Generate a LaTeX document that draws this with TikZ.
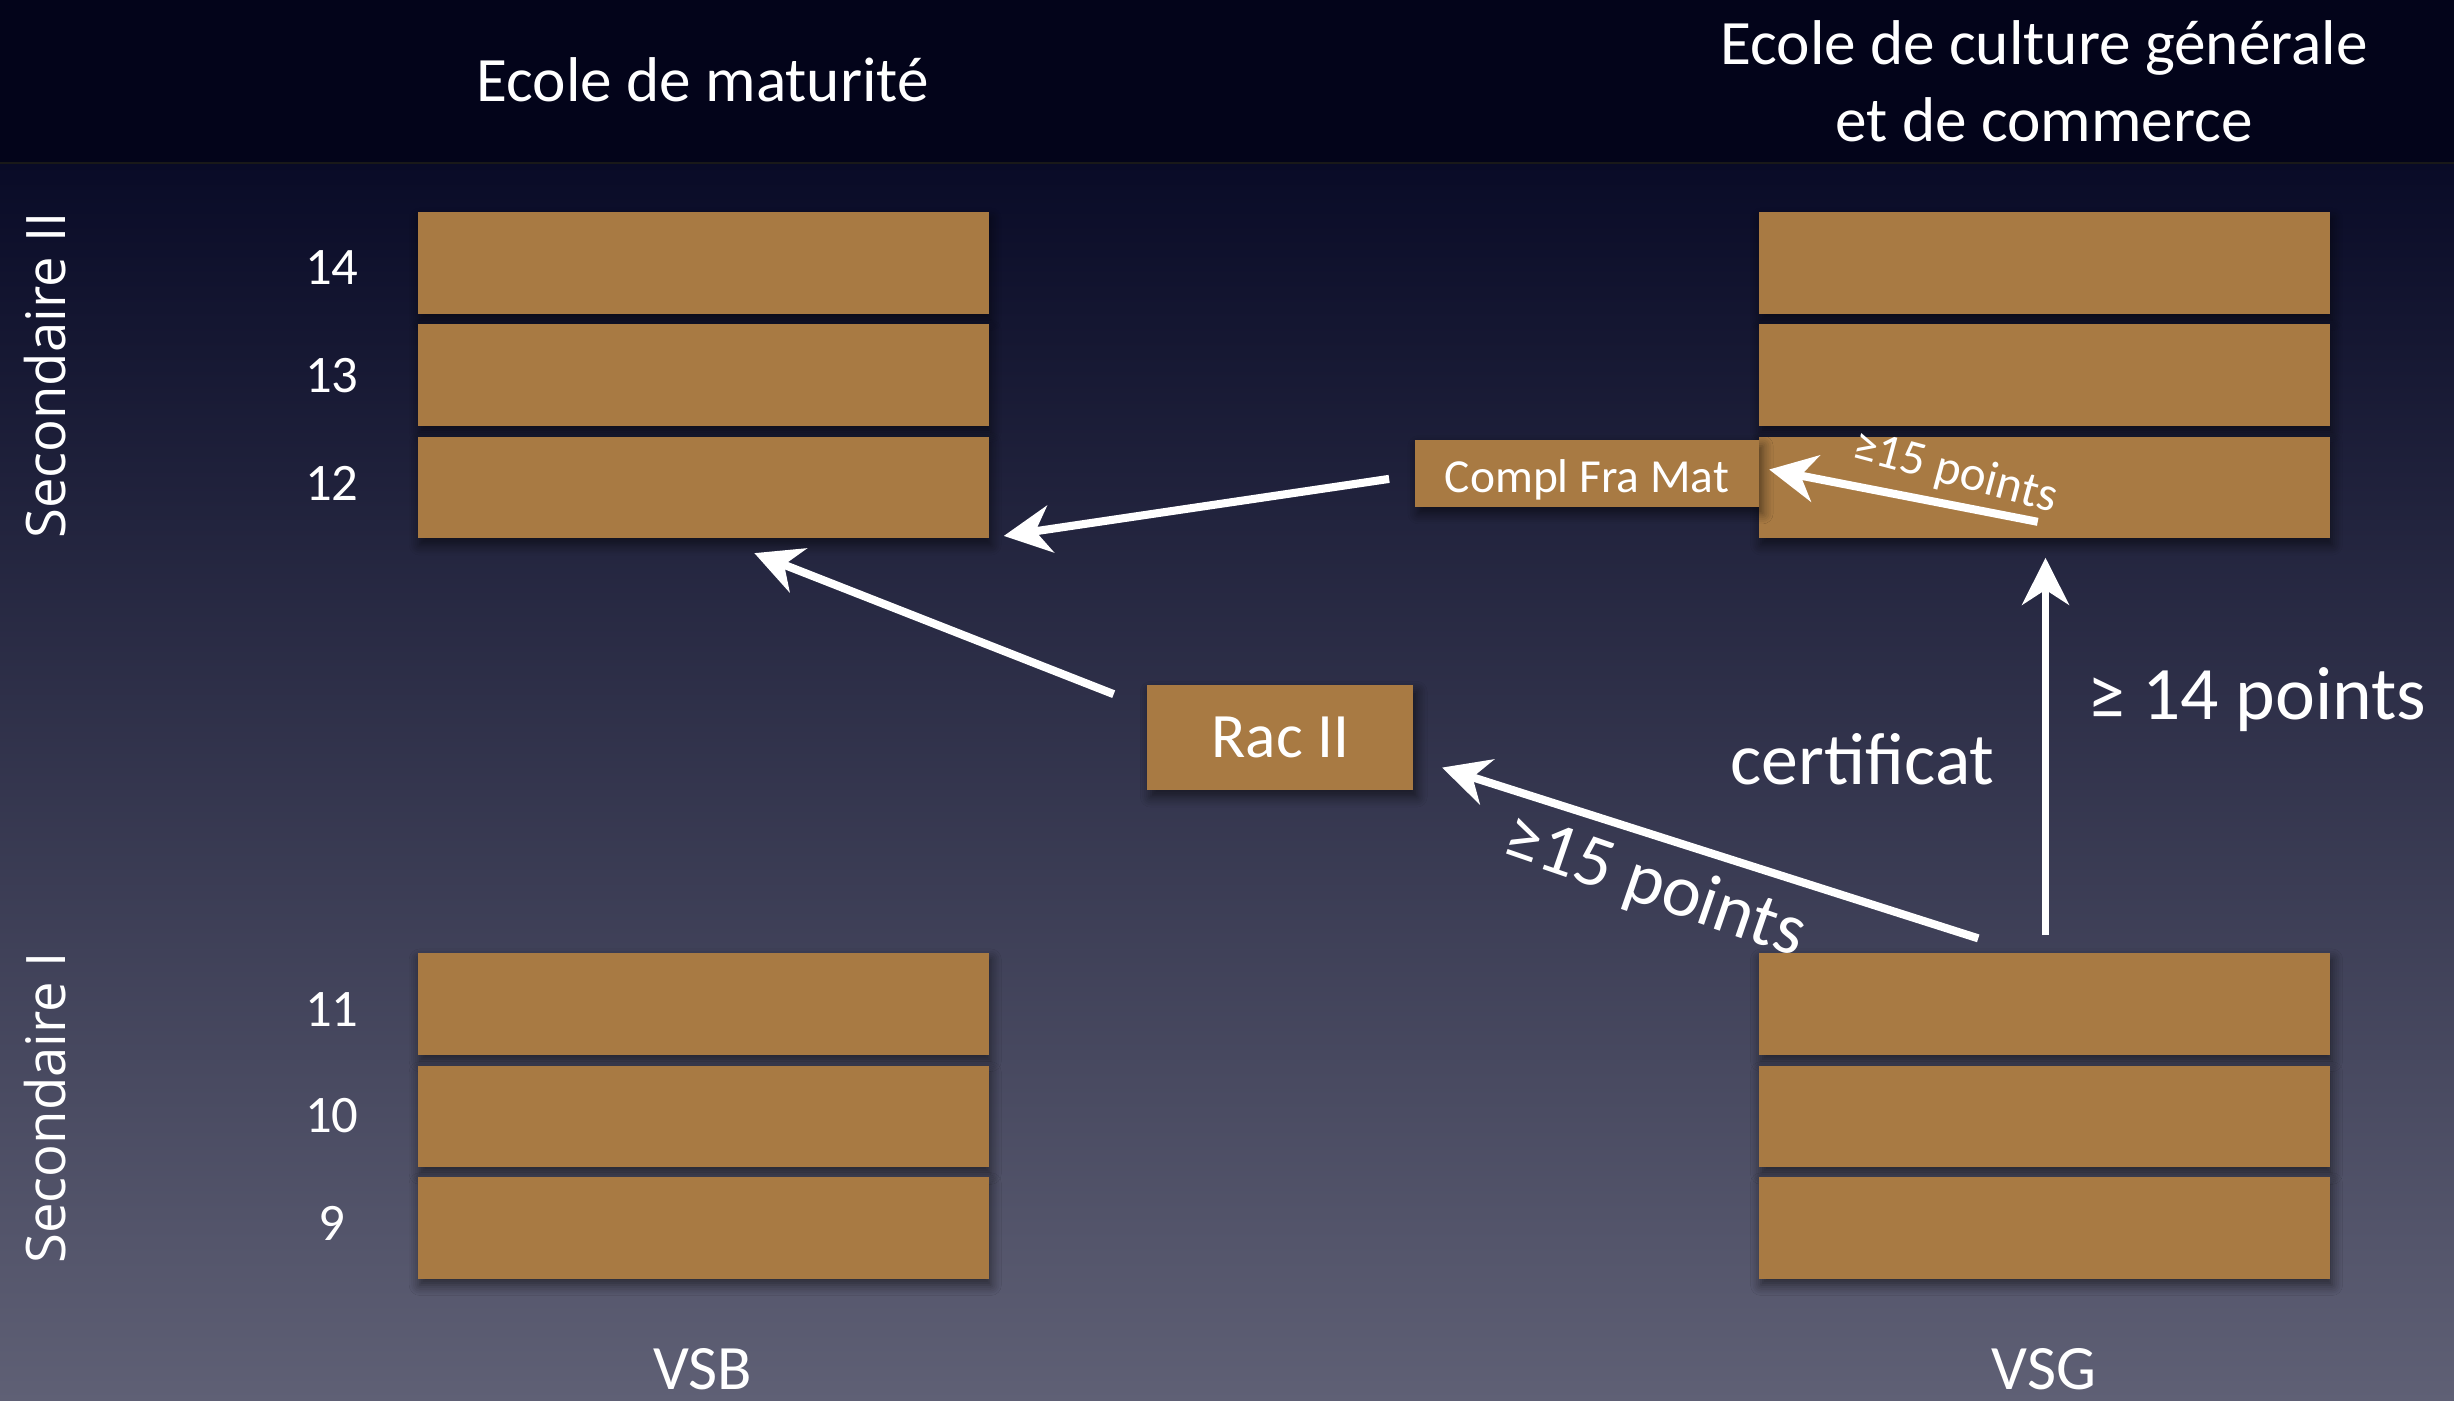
\documentclass[tikz,border=0pt]{standalone}
\usepackage{fontspec}
\setmainfont{Carlito}
\newfontfamily\secfont{Open Sans}
\usetikzlibrary{arrows.meta,shadows,shadows.blur,calc}
\definecolor{boxc}{HTML}{A87A43}
\definecolor{bgtop}{HTML}{03041A}
\definecolor{bgA}{HTML}{090B27}
\definecolor{bgB}{HTML}{2A2D4A}
\definecolor{bgC}{HTML}{606176}
\begin{document}
\begin{tikzpicture}[x=0.01565cm, y=-0.01565cm,
  grade/.style={fill=boxc, draw=none, inner sep=0pt, minimum width=5.712cm, minimum height=1.017cm,
    blur shadow={shadow xshift=0.5pt, shadow yshift=-1.8pt, shadow opacity=55, shadow blur radius=3pt, shadow blur steps=6}},
  box/.style={fill=boxc, draw=none, inner sep=0pt, text=white,
    blur shadow={shadow xshift=1pt, shadow yshift=-1.8pt, shadow opacity=55, shadow blur radius=3pt, shadow blur steps=6}},
  num/.style={text=white, font=\fontsize{15}{18}\selectfont},
  title/.style={text=white, font=\fontsize{18}{21.8}\selectfont},
  lab/.style={text=white, font=\fontsize{21}{25}\selectfont},
  sec/.style={text=white, font=\secfont\fontsize{15.5}{18}\selectfont},
  arr/.style={draw=white, line width=2.3pt, -{Stealth[length=0.47cm, width=0.47cm, inset=0.15cm]}}
]
% background
\useasboundingbox (0,0) rectangle (1568,895);
\fill[bgtop] (-10,-10) rectangle (1578,104);
\shade[top color=bgA, middle color=bgB, bottom color=bgC] (-10,104) rectangle (1578,905);
\fill[black!90] (-10,103.3) rectangle (1578,104.7);

% titles
\node[title] (tm) at (449,51) {Ecole de maturité};
\node[title, align=center] (tc) at (1306,52) {Ecole de culture générale\\et de commerce};
\node[title, anchor=base] (vsb) at (449,888) {VSB};
\node[title, anchor=base] (vsg) at (1306,888) {VSG};

% side labels
\node[sec, rotate=90] (sec2) at (29,240) {Secondaire II};
\node[sec, rotate=90] (sec1) at (29,708) {Secondaire I};

% grade boxes
\node[grade] (L14) at (449.5,168) {};
\node[grade] (L13) at (449.5,239.5) {};
\node[grade] (L12) at (449.5,311.5) {};
\node[grade] (L11) at (449.5,641.5) {};
\node[grade] (L10) at (449.5,713.5) {};
\node[grade] (L9) at (449.5,784.5) {};
\node[grade] (R14) at (1306.5,168) {};
\node[grade] (R13) at (1306.5,239.5) {};
\node[grade] (R12) at (1306.5,311.5) {};
\node[grade] (R11) at (1306.5,641.5) {};
\node[grade] (R10) at (1306.5,713.5) {};
\node[grade] (R9) at (1306.5,784.5) {};

% grade numbers
\node[num] (n14) at (212,171) {14};
\node[num] (n13) at (212,240) {13};
\node[num] (n12) at (212,309) {12};
\node[num] (n11) at (212,645) {11};
\node[num] (n10) at (212,713) {10};
\node[num] (n9) at (212,782) {9};

% special boxes
\node[box, minimum width=3.443cm, minimum height=0.673cm, text depth=0pt, font=\fontsize{13.5}{16}\selectfont] (compl) at (1014,302.5) {\raisebox{-1.5pt}{Compl Fra Mat}};
\node[box, minimum width=2.66cm, minimum height=1.049cm, font=\fontsize{18}{21}\selectfont] (rac) at (818,471.5) {Rac II};

% arrows
\draw[arr] ([shift={(-16,3.5)}]compl.west) -- ([shift={(9,-2)}]L12.south east);
\draw[arr] ([shift={(-21,6)}]rac.north west) -- ([shift={(32.5,9)}]L12.south);
\draw[arr] ([shift={(-42.5,-9)}]R11.north) -- ([shift={(18,-15)}]rac.south east);
\draw[arr, line width=2pt] ([shift={(0.5,-11)}]R11.north) -- ([shift={(0.5,12)}]R12.south);
\draw[arr] ([shift={(-4.5,-11)}]R12.south) -- ([shift={(6,-2.5)}]compl.east);

% arrow labels
\node[text=white, font=\fontsize{14}{16}\selectfont, rotate=-15] (s15) at (1249,302) {≥15 points};
\node[lab, rotate=-19] (b15) at (1057,567) {≥15 points};
\node[lab] (cert) at (1190,485) {certificat};
\node[lab, font=\fontsize{21.5}{25}\selectfont] (g14) at (1442,447) {≥ 14 points};
\end{tikzpicture}
\end{document}
